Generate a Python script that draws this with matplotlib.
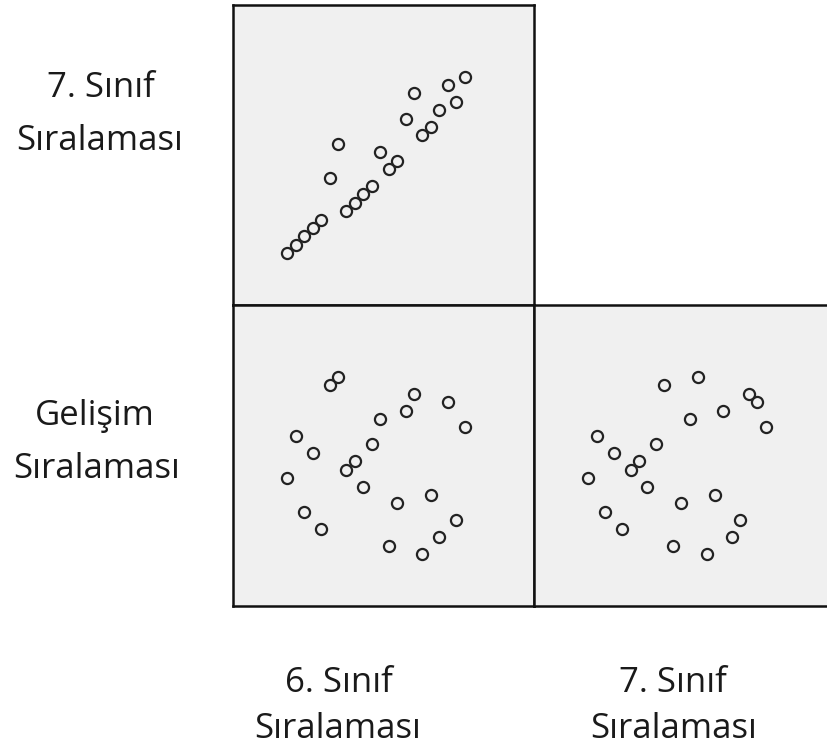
import matplotlib
matplotlib.use('Agg')
import matplotlib.pyplot as plt

# rank data (22 students)
sinif6 = [1, 2, 3, 4, 5, 6, 7, 8, 9, 10, 11, 12, 13, 14, 15, 16, 17, 18, 19, 20, 21, 22]
sinif7 = [1, 2, 3, 4, 5, 10, 14, 6, 7, 8, 9, 13, 11, 12, 17, 20, 15, 16, 18, 21, 19, 22]
gelisim = [10, 15, 6, 13, 4, 21, 22, 11, 12, 9, 14, 17, 2, 7, 18, 20, 1, 8, 3, 19, 5, 16]

row_labels = [('7. Sınıf', 'Sıralaması'), ('Gelişim', 'Sıralaması')]
col_labels = [('6. Sınıf', 'Sıralaması'), ('7. Sınıf', 'Sıralaması')]

plt.rcParams['font.family'] = ['Open Sans', 'DejaVu Sans']

W, H = 827, 749
fig = plt.figure(figsize=(W / 100, H / 100), dpi=100)


def px_axes(left, top, width, height):
    return fig.add_axes([left / W, 1 - (top + height) / H, width / W, height / H])


panels = [
    (px_axes(233, 5, 301, 300), sinif6, sinif7),
    (px_axes(233, 305, 301, 301), sinif6, gelisim),
    (px_axes(534, 305, 301, 301), sinif7, gelisim),
]

for ax, xs, ys in panels:
    ax.set_facecolor('#f0f0f0')
    ax.plot(xs, ys, 'o', ms=8.0, mfc='none', mec='#222222', mew=1.6,
            clip_on=False)
    ax.set_xlim(-5.43, 30.2)
    ax.set_ylim(-5.15, 30.5)
    ax.set_xticks([])
    ax.set_yticks([])
    for s in ax.spines.values():
        s.set_linewidth(1.8)
        s.set_color('#111111')

txt = dict(ha='center', va='baseline', fontsize=25, color='#1a1a1a')

# row labels (left side)
fig.text(101 / W, 1 - 97 / H, row_labels[0][0], **txt)
fig.text(100 / W, 1 - 150 / H, row_labels[0][1], **txt)
fig.text(95 / W, 1 - 425 / H, row_labels[1][0], **txt)
fig.text(97 / W, 1 - 478 / H, row_labels[1][1], **txt)

# column labels (bottom)
fig.text(339 / W, 1 - 692 / H, col_labels[0][0], **txt)
fig.text(338 / W, 1 - 738 / H, col_labels[0][1], **txt)
fig.text(673 / W, 1 - 692 / H, col_labels[1][0], **txt)
fig.text(674 / W, 1 - 738 / H, col_labels[1][1], **txt)

plt.savefig('out.png', dpi=100)
